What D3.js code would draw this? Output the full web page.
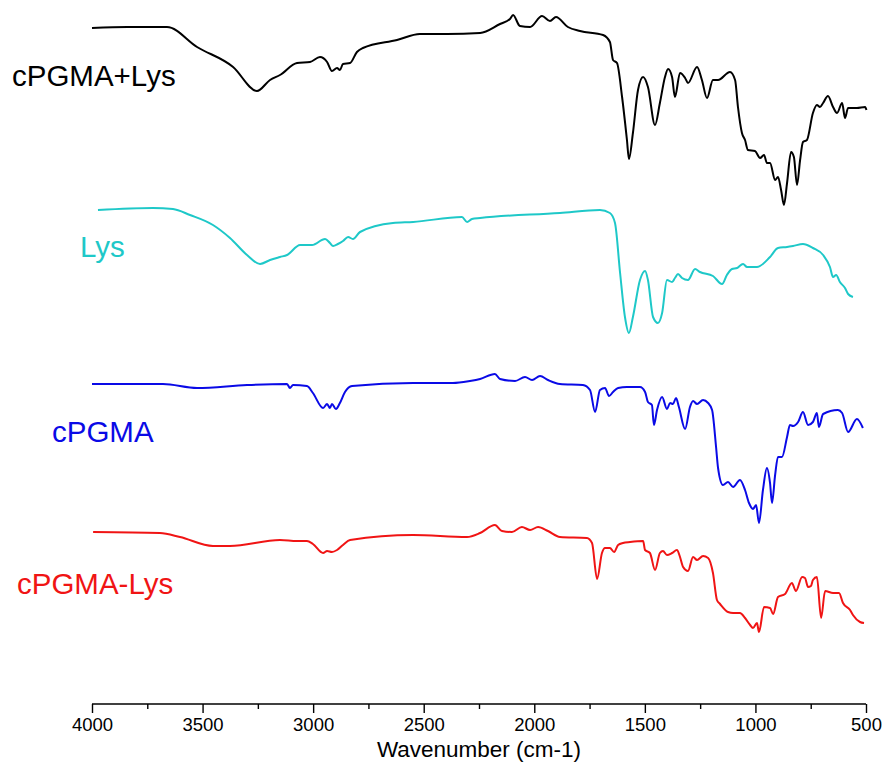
<!DOCTYPE html>
<html><head><meta charset="utf-8">
<script src="https://cdn.jsdelivr.net/npm/d3@7"></script>
<style>body{margin:0;background:#fff}svg{display:block}</style>
</head><body>
<script>
// wavenumber (cm-1), offset transmittance (a.u.)
const cpgmaLys = [[4000,67.6],[3840,67.7],[3661,67.7],[3525,65.7],[3362,63.7],[3254,61.3],[3195,62.4],[3150,62.9],[3073,64.1],[3014,64.2],[2969,64.7],[2937,64.2],[2915,63.3],[2892,63.6],[2879,63.4],[2865,64.0],[2833,64.1],[2802,65.2],[2775,65.6],[2621,66.4],[2517,67.0],[2395,67.0],[2245,67.1],[2155,68.0],[2110,68.5],[2096,68.9],[2065,67.8],[2019,67.7],[1965,68.8],[1929,68.3],[1902,68.7],[1848,67.7],[1793,67.3],[1689,66.9],[1658,66.2],[1644,64.4],[1626,64.1],[1603,60.7],[1581,56.4],[1572,54.5],[1554,57.1],[1531,61.4],[1508,62.7],[1486,61.7],[1454,57.9],[1432,60.1],[1409,62.7],[1395,63.5],[1377,62.7],[1364,60.7],[1341,63.1],[1318,62.6],[1305,62.1],[1264,63.7],[1242,62.4],[1219,60.6],[1192,62.4],[1169,62.4],[1115,63.2],[1092,62.4],[1079,59.7],[1061,57.1],[1047,56.4],[1034,55.4],[1002,55.3],[979,54.6],[961,54.9],[948,54.1],[934,54.1],[911,52.4],[898,52.7],[884,51.4],[871,49.9],[857,52.1],[839,55.2],[826,54.7],[812,51.9],[798,54.4],[785,56.2],[767,56.4],[740,59.1],[722,59.9],[708,59.7],[694,60.1],[672,60.8],[649,59.7],[631,59.1],[608,60.1],[595,58.6],[581,59.6],[541,59.6],[504,59.7],[498,59.4]];
const lys = [[3973,49.4],[3724,49.6],[3634,49.5],[3557,48.9],[3453,47.9],[3376,46.6],[3299,44.9],[3240,44.0],[3195,44.4],[3150,44.7],[3118,44.9],[3059,45.9],[3005,45.9],[2946,46.5],[2924,46.1],[2910,45.8],[2888,46.0],[2865,46.3],[2842,46.7],[2820,46.5],[2788,47.2],[2639,48.1],[2548,48.2],[2327,48.7],[2304,48.2],[2282,48.5],[2245,48.6],[1884,49.1],[1703,49.4],[1658,49.1],[1635,48.1],[1612,43.1],[1590,38.7],[1572,37.1],[1554,38.7],[1522,42.4],[1499,43.3],[1486,42.4],[1463,38.7],[1441,38.1],[1422,39.1],[1400,42.4],[1377,42.2],[1364,42.6],[1350,43.0],[1332,42.6],[1305,42.4],[1273,43.5],[1251,43.2],[1192,42.8],[1151,42.0],[1129,42.9],[1106,43.5],[1083,43.6],[1056,44.0],[1038,43.7],[993,43.7],[934,44.7],[898,45.6],[857,45.7],[830,45.8],[785,46.0],[740,45.6],[694,44.9],[663,43.7],[649,42.7],[635,42.9],[618,42.2],[595,41.6],[581,41.0],[559,40.7]];
const cpgma = [[4000,32.0],[3679,32.0],[3525,31.6],[3299,31.9],[3118,32.0],[3105,31.6],[3091,31.9],[3028,31.8],[3001,31.1],[2955,29.6],[2937,30.0],[2924,29.6],[2915,30.0],[2897,29.5],[2879,30.1],[2856,31.2],[2824,31.8],[2548,32.1],[2368,32.1],[2291,32.3],[2245,32.5],[2178,33.0],[2155,32.5],[2087,32.3],[2042,32.7],[2010,32.4],[1974,32.8],[1938,32.4],[1884,32.0],[1780,31.9],[1748,31.4],[1725,29.2],[1703,31.4],[1680,31.6],[1662,30.8],[1644,31.2],[1621,31.6],[1581,31.7],[1522,31.7],[1499,31.2],[1486,30.2],[1468,29.9],[1459,27.9],[1445,29.4],[1422,30.7],[1400,29.5],[1386,30.1],[1373,30.0],[1359,30.6],[1346,29.7],[1318,27.5],[1296,29.7],[1282,30.3],[1264,30.0],[1237,30.4],[1214,30.1],[1196,29.4],[1178,25.7],[1169,23.6],[1147,21.9],[1124,22.2],[1101,21.7],[1070,22.4],[1047,21.4],[1029,20.1],[1011,19.5],[997,19.9],[984,18.1],[966,21.4],[948,23.6],[934,22.1],[925,20.1],[911,22.9],[898,24.7],[880,24.7],[857,26.7],[844,27.9],[830,27.8],[807,28.2],[785,29.2],[762,27.9],[740,28.2],[722,29.1],[713,27.7],[694,29.0],[627,29.4],[608,29.1],[581,27.2],[541,28.5],[514,27.6]];
const cpgmaMinusLys = [[3995,17.2],[3693,17.1],[3602,16.7],[3453,15.8],[3376,15.8],[3150,16.4],[3073,16.3],[3028,16.3],[3001,16.0],[2955,15.1],[2937,15.3],[2915,15.2],[2892,15.4],[2865,15.9],[2833,16.4],[2548,16.9],[2304,16.7],[2245,17.1],[2178,17.9],[2146,17.3],[2101,17.2],[2056,17.7],[2019,17.4],[1983,17.7],[1938,17.3],[1884,16.7],[1762,16.6],[1739,16.1],[1716,12.5],[1694,15.1],[1680,15.6],[1658,15.6],[1639,15.2],[1621,15.9],[1599,16.1],[1567,16.2],[1508,16.3],[1499,15.4],[1477,15.1],[1454,13.4],[1432,15.1],[1418,15.3],[1400,14.9],[1377,15.1],[1355,15.4],[1341,14.7],[1327,13.7],[1305,13.3],[1282,14.7],[1264,14.4],[1237,14.8],[1214,14.6],[1192,13.1],[1174,10.4],[1160,10.0],[1124,9.2],[1101,9.1],[1070,9.1],[1047,8.6],[1024,7.9],[1011,7.6],[993,8.1],[984,7.2],[961,9.7],[934,9.6],[920,9.0],[898,10.7],[866,11.0],[835,12.1],[817,11.3],[789,12.7],[776,12.6],[762,11.7],[749,11.8],[740,12.4],[722,12.7],[703,8.6],[685,11.3],[649,11.1],[622,11.1],[604,10.1],[572,9.4],[559,8.9],[527,8.2],[509,8.1]];

const seriesNames = ["cPGMA+Lys","Lys","cPGMA","cPGMA-Lys"];
const seriesColors = ["#000000","#1ec8c8","#0a0ae6","#f01414"];
const seriesData = [cpgmaLys, lys, cpgma, cpgmaMinusLys];
const labelPos = [[12,86],[80,257],[52,442],[17,594]];
const xTicks = [4000,3500,3000,2500,2000,1500,1000,500];
const xMinorTicks = [3750,3250,2750,2250,1750,1250,750];
const xTitle = "Wavenumber (cm-1)";

const W = 883, H = 776;
const svg = d3.select("body").append("svg").attr("width", W).attr("height", H);
const x = d3.scaleLinear().domain([4000, 500]).range([92, 866]);
const y = d3.scaleLinear().domain([0, 70.4]).range([704, 0]);

const line = d3.line().x(d => x(d[0])).y(d => y(d[1])).curve(d3.curveMonotoneX);
seriesData.forEach((s, i) => {
  svg.append("path").datum(s).attr("d", line)
    .attr("fill", "none").attr("stroke", seriesColors[i])
    .attr("stroke-width", 2).attr("stroke-linejoin", "round");
  svg.append("text").attr("x", labelPos[i][0]).attr("y", labelPos[i][1])
    .attr("fill", seriesColors[i]).attr("font-family", "Liberation Sans, Arial, sans-serif")
    .attr("font-size", 29.5).text(seriesNames[i]);
});

const axis = d3.axisBottom(x).tickValues(xTicks).tickSize(9).tickPadding(5).tickFormat(d3.format("d"));
const gx = svg.append("g").attr("transform", "translate(0,704)").call(axis);
gx.select(".domain").attr("stroke", "#000").attr("stroke-width", 1.6).attr("d", "M92,0H866");
gx.selectAll(".tick line").attr("stroke", "#000").attr("stroke-width", 1.4);
gx.selectAll(".tick text").attr("font-family", "Liberation Sans, Arial, sans-serif")
  .attr("font-size", 18.5).attr("fill", "#000");
const minor = d3.axisBottom(x).tickValues(xMinorTicks).tickSize(5).tickFormat("");
const gm = svg.append("g").attr("transform", "translate(0,704)").call(minor);
gm.select(".domain").remove();
gm.selectAll(".tick line").attr("stroke", "#000").attr("stroke-width", 1.4);

svg.append("text").attr("x", x(2250)).attr("y", 757).attr("text-anchor", "middle")
  .attr("font-family", "Liberation Sans, Arial, sans-serif").attr("font-size", 22.5)
  .attr("fill", "#000").text(xTitle);
</script>
</body></html>
